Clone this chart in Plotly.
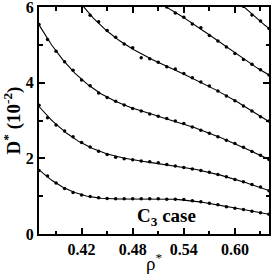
import numpy as np
import plotly.graph_objects as go
from numpy.polynomial import Polynomial

rho_all = [round(0.37 + 0.01 * k, 2) for k in range(28)]

d1 = [1.68, 1.53, 1.35, 1.20, 1.10, 1.03, 0.99, 0.96, 0.94, 0.93, 0.93, 0.93, 0.93, 0.93,
      0.93, 0.92, 0.92, 0.91, 0.88, 0.85, 0.81, 0.77, 0.72, 0.68, 0.65, 0.60, 0.56, 0.52]
d2 = [3.40, 3.07, 2.88, 2.72, 2.57, 2.42, 2.30, 2.19, 2.10, 2.03, 1.99, 1.96, 1.93, 1.91,
      1.88, 1.84, 1.80, 1.76, 1.72, 1.68, 1.63, 1.57, 1.51, 1.44, 1.38, 1.31, 1.24, 1.14]
d3 = [5.54, 5.14, 4.83, 4.55, 4.33, 4.07, 3.92, 3.73, 3.61, 3.51, 3.41, 3.32, 3.25, 3.17,
      3.11, 3.05, 2.99, 2.92, 2.83, 2.74, 2.66, 2.57, 2.48, 2.39, 2.29, 2.18, 2.08, 1.97]
rho4 = rho_all[5:]
d4 = [6.05, 5.78, 5.61, 5.38, 5.20, 5.02, 4.92, 4.66, 4.63, 4.54, 4.42, 4.36, 4.24, 4.13,
      4.02, 3.91, 3.78, 3.65, 3.52, 3.38, 3.25, 3.10, 2.99]
rho5 = rho_all[15:]
d5 = [6.00, 5.84, 5.73, 5.55, 5.45, 5.25, 5.10, 4.94, 4.77, 4.61, 4.49, 4.34, 4.20]
rho6 = rho_all[24:]
d6 = [6.02, 5.79, 5.63, 5.43]

series = [(rho_all, d1, 6), (rho_all, d2, 6), (rho_all, d3, 6),
          (rho4, d4, 4), (rho5, d5, 3), (rho6, d6, 2)]

fig = go.Figure()
for xs, ys, deg in series:
    p = Polynomial.fit(xs, ys, deg)
    xf = np.linspace(xs[0], xs[-1], 200)
    fig.add_trace(go.Scatter(x=xf, y=p(xf), mode="lines",
                             line=dict(color="black", width=1.1),
                             hoverinfo="skip", showlegend=False))
    fig.add_trace(go.Scatter(x=xs, y=ys, mode="markers",
                             marker=dict(color="black", size=3.5),
                             showlegend=False))

font = "Liberation Serif"
axis_common = dict(showline=True, linecolor="black", linewidth=2, mirror="ticks",
                   ticks="inside", ticklen=6, tickwidth=1.5, tickcolor="black",
                   showgrid=False, zeroline=False, automargin=False,
                   ticklabeloverflow="allow",
                   tickfont=dict(family=font, size=16, color="black", weight="bold"))

fig.update_layout(
    width=273, height=275,
    margin=dict(l=39, r=4, t=7, b=41),
    plot_bgcolor="white", paper_bgcolor="white",
    xaxis=dict(range=[0.37, 0.64], tickmode="array",
               tickvals=[0.42, 0.48, 0.54, 0.60],
               ticktext=["0.42", "0.48", "0.54", "0.60"],
               minor=dict(tickvals=[0.39, 0.45, 0.51, 0.57, 0.63], ticks="inside",
                          ticklen=3.5, tickwidth=1.5, tickcolor="black"),
               **axis_common),
    yaxis=dict(range=[0, 6], tickmode="array", tickvals=[0, 2, 4, 6],
               ticktext=["0", "2", "4", "6"],
               minor=dict(tickvals=[1, 3, 5], ticks="inside",
                          ticklen=3.5, tickwidth=1.5, tickcolor="black"),
               title=dict(text="<b>D<sup>*</sup> (10<sup>-2</sup>)</b>", standoff=2,
                          font=dict(family=font, size=19, color="black", weight="bold")),
               **axis_common),
    annotations=[
        dict(text="<b>C<sub>3</sub> case</b>", x=0.52, y=0.45,
             xref="x", yref="y", showarrow=False,
             font=dict(family=font, size=19, color="black", weight="bold")),
        dict(text="ρ<sup>*</sup>", x=0.5, y=-0.06, xref="paper", yref="paper",
             xanchor="center", yanchor="top", showarrow=False,
             font=dict(family=font, size=19, color="black")),
    ],
)

fig.write_html("out.html", config={"displayModeBar": False},
               post_script="document.body.style.margin='0px';document.body.style.overflow='hidden';")
